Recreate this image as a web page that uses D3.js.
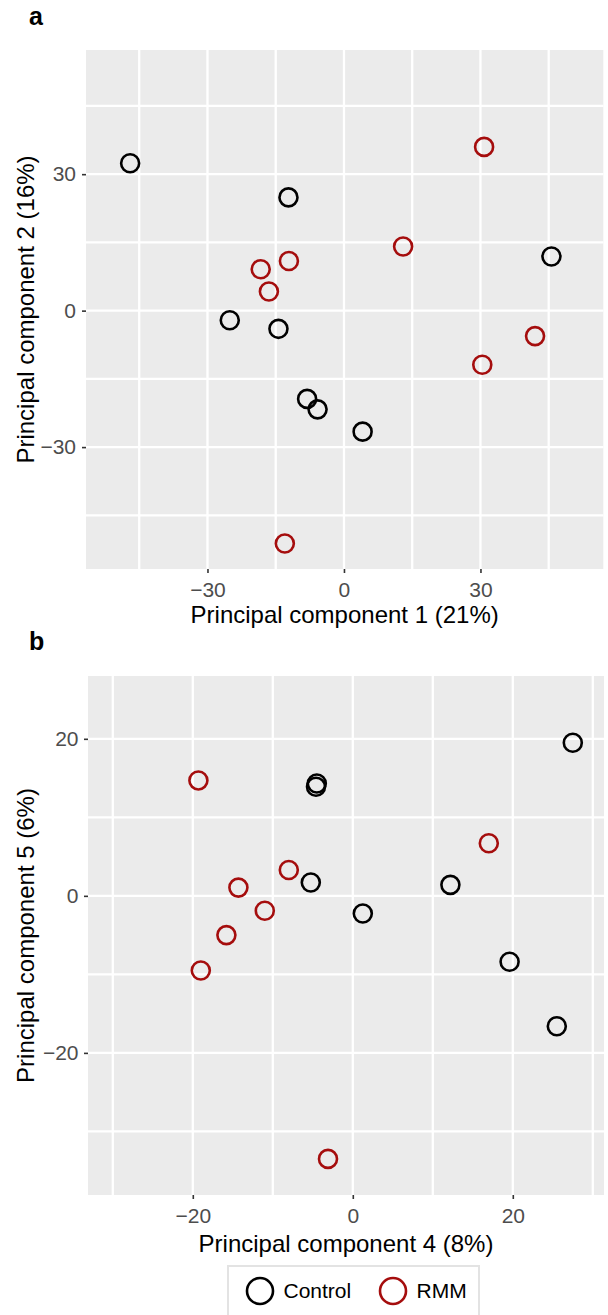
<!DOCTYPE html>
<html lang="en">
<head>
<meta charset="UTF-8">
<title>PCA</title>
<script src="https://d3js.org/d3.v7.min.js"></script>
<style>
  body { margin: 0; background: #fff; }
  svg { display: block; font-family: "Liberation Sans", Arial, sans-serif; }
</style>
</head>
<body>
<script>
// ---- data ----
const groups = ["Control", "RMM"];
const groupColors = ["#000000", "#a50d0d"];

// panel a: PC1 vs PC2
const pc1Control = [-47.0, -12.2, -25.1, -14.4, -8.1, -5.8, 4.1, 45.6];
const pc2Control = [32.4, 24.9, -2.1, -4.0, -19.4, -21.7, -26.6, 11.9];
const pc1RMM = [30.8, 13.0, 42.0, 30.4, -18.3, -12.1, -16.5, -13.0];
const pc2RMM = [36.0, 14.1, -5.6, -11.9, 9.1, 10.9, 4.2, -51.2];

// panel b: PC4 vs PC5
const pc4Control = [27.5, -4.5, -4.6, -5.25, 1.25, 12.2, 19.6, 25.5];
const pc5Control = [19.5, 14.3, 13.9, 1.7, -2.25, 1.4, -8.4, -16.6];
const pc4RMM = [-19.3, 17.0, -8.0, -14.3, -11.0, -15.8, -19.0, -3.1];
const pc5RMM = [14.7, 6.7, 3.3, 1.05, -1.9, -5.0, -9.5, -33.5];

const ticksA = [-30, 0, 30];
const minorA = [-45, -15, 15, 45];
const ticksB = [-20, 0, 20];
const minorB = [-30, -10, 10, 30];

const svg = d3.select("body").append("svg")
    .attr("width", 608)
    .attr("height", 1315);

function panel(opts) {
    let x = d3.scaleLinear().domain(opts.xdom).range([opts.left, opts.right]);
    let y = d3.scaleLinear().domain(opts.ydom).range([opts.bottom, opts.top]);
    let g = svg.append("g");

    g.append("rect")
        .attr("x", opts.left).attr("y", opts.top)
        .attr("width", opts.right - opts.left)
        .attr("height", opts.bottom - opts.top)
        .attr("fill", "#ebebeb");

    let allX = opts.xminor.concat(opts.xticks);
    let allY = opts.yminor.concat(opts.yticks);
    g.selectAll(".vg").data(allX).enter().append("line")
        .attr("x1", d => x(d)).attr("x2", d => x(d))
        .attr("y1", opts.top).attr("y2", opts.bottom)
        .attr("stroke", "#fff").attr("stroke-width", 2.3);
    g.selectAll(".hg").data(allY).enter().append("line")
        .attr("y1", d => y(d)).attr("y2", d => y(d))
        .attr("x1", opts.left).attr("x2", opts.right)
        .attr("stroke", "#fff").attr("stroke-width", 2.3);

    let xAxis = g.append("g")
        .attr("transform", "translate(0," + opts.bottom + ")")
        .call(d3.axisBottom(x).tickValues(opts.xticks).tickSize(4).tickPadding(9));
    let yAxis = g.append("g")
        .attr("transform", "translate(" + opts.left + ",0)")
        .call(d3.axisLeft(y).tickValues(opts.yticks).tickSize(4).tickPadding(opts.ypad));
    [xAxis, yAxis].forEach(function (a) {
        a.select(".domain").remove();
        a.selectAll(".tick line").attr("stroke", "#333").attr("stroke-width", 1.6);
        a.selectAll(".tick text").attr("fill", "#4d4d4d")
            .style("font-size", "21px");
    });

    // points
    let series = [
        {name: groups[0], xs: opts.data[0], ys: opts.data[1], color: groupColors[0]},
        {name: groups[1], xs: opts.data[2], ys: opts.data[3], color: groupColors[1]}
    ];
    series.forEach(function (s) {
        g.selectAll(null).data(s.xs.map((v, i) => [v, s.ys[i]])).enter()
            .append("circle")
            .attr("cx", d => x(d[0]))
            .attr("cy", d => y(d[1]))
            .attr("r", 9)
            .attr("fill", "none")
            .attr("stroke", s.color)
            .attr("stroke-width", 2.6);
    });

    g.append("text")
        .attr("x", (opts.left + opts.right) / 2)
        .attr("y", opts.xtitleY)
        .attr("text-anchor", "middle")
        .style("font-size", "24px")
        .attr("fill", "#000")
        .text(opts.xtitle);

    g.append("text")
        .attr("transform", "translate(34," + (opts.top + opts.bottom) / 2 + ") rotate(-90)")
        .attr("text-anchor", "middle")
        .style("font-size", "24px")
        .attr("fill", "#000")
        .text(opts.ytitle);

    g.append("text")
        .attr("x", 29).attr("y", opts.labelY)
        .style("font-size", "25px")
        .style("font-weight", "bold")
        .text(opts.label);
}

panel({
    label: "a", labelY: 25,
    left: 86, right: 603.3, top: 50, bottom: 569,
    xdom: [-56.7, 57.0], ydom: [-56.8, 57.3],
    xticks: ticksA, xminor: minorA, yticks: ticksA, yminor: minorA,
    ypad: 6,
    data: [pc1Control, pc2Control, pc1RMM, pc2RMM],
    xtitle: "Principal component 1 (21%)", xtitleY: 623,
    ytitle: "Principal component 2 (16%)"
});

panel({
    label: "b", labelY: 650,
    left: 88, right: 604, top: 676, bottom: 1195,
    xdom: [-33.1, 31.4], ydom: [-38.1, 28.0],
    xticks: ticksB, xminor: minorB, yticks: ticksB, yminor: minorB,
    ypad: 5.5,
    data: [pc4Control, pc5Control, pc4RMM, pc5RMM],
    xtitle: "Principal component 4 (8%)", xtitleY: 1252,
    ytitle: "Principal component 5 (6%)"
});

// legend
let legend = svg.append("g");
legend.append("rect")
    .attr("x", 228).attr("y", 1266)
    .attr("width", 251).attr("height", 70)
    .attr("fill", "#fff")
    .attr("stroke", "#e3e3e3")
    .attr("stroke-width", 2);

let keyX = [260, 393];
groups.forEach(function (name, i) {
    legend.append("circle")
        .attr("cx", keyX[i]).attr("cy", 1291)
        .attr("r", 13)
        .attr("fill", "none")
        .attr("stroke", groupColors[i])
        .attr("stroke-width", 2.6);
    legend.append("text")
        .attr("x", keyX[i] + 23.5).attr("y", 1298)
        .style("font-size", "21px")
        .attr("fill", "#000")
        .text(name);
});
</script>
</body>
</html>
